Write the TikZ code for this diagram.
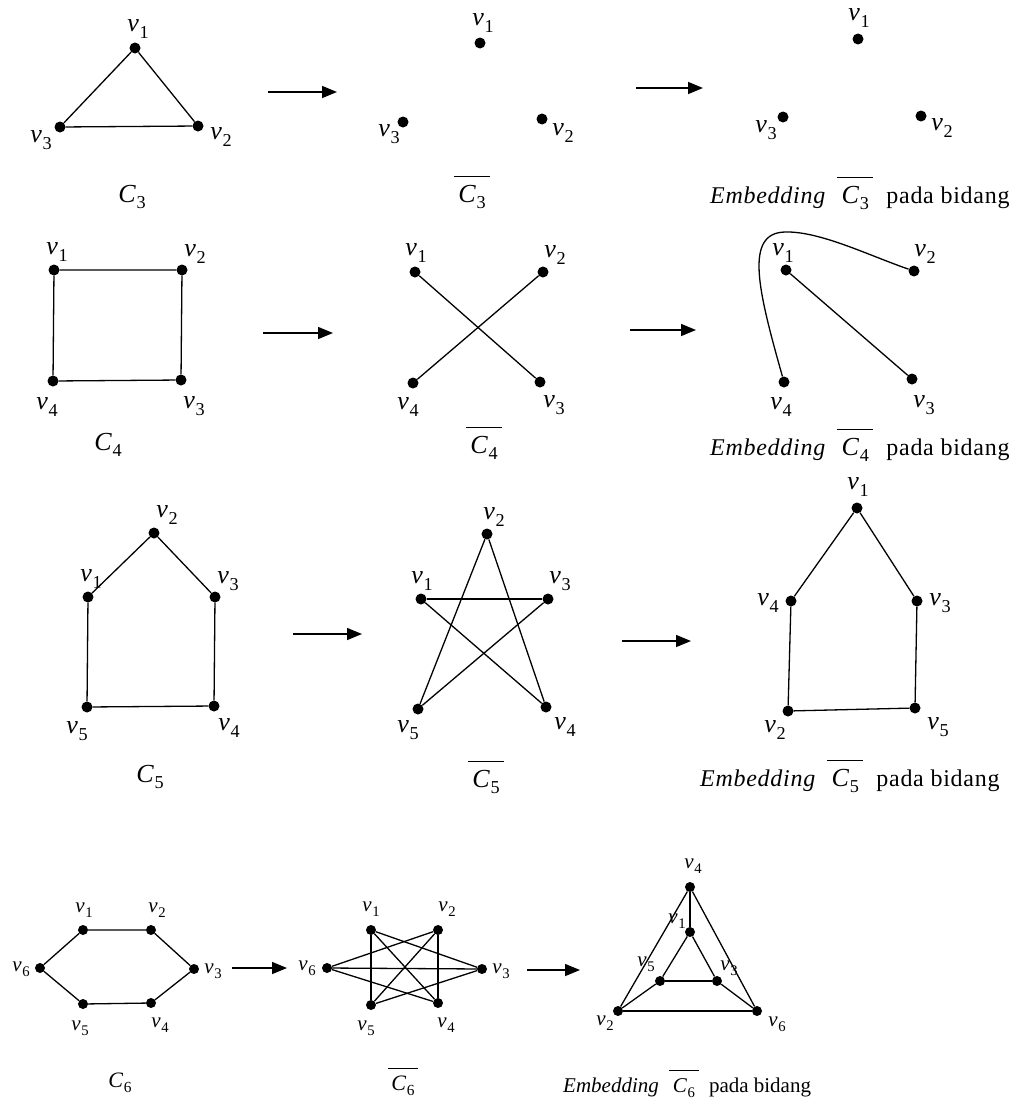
\documentclass[tikz,border=0pt]{standalone}
\usepackage{fontspec}
\setmainfont{Liberation Serif}
\usetikzlibrary{arrows.meta}
% vertex label v_i and cycle names, with a larger lowered index
\newcommand{\sbx}[1]{\raisebox{-0.24em}{\scalebox{0.7}{#1}}}
\newcommand{\vl}[1]{\textit{v}\kern0.6pt\sbx{#1}}
\newcommand{\cl}[1]{\textit{C}\kern0.6pt\sbx{#1}}
\newcommand{\cbar}[1]{$\overline{\rule{0pt}{0.95em}\mbox{\,\textit{C}\kern0.6pt\sbx{#1}\,}}$}
\newcommand{\embcap}[1]{{\itshape\addfontfeature{LetterSpace=3}Embedding}\hspace{0.5em}{\fontsize{26}{26}\selectfont\cbar{#1}}\hspace{0.55em}{\addfontfeature{LetterSpace=3}pada bidang}}
\newcommand{\embcaps}[1]{\textit{Embedding}\hspace{0.5em}\cbar{#1}\hspace{0.5em}pada bidang}

\begin{document}
\begin{tikzpicture}[x=1pt,y=-1pt,
  dot/.style={circle,fill=black,inner sep=0pt,minimum size=11pt},
  sdot/.style={circle,fill=black,inner sep=0pt,minimum size=10pt},
  lab/.style={inner sep=0pt,font=\fontsize{26}{26}\selectfont},
  labs/.style={inner sep=0pt,font=\fontsize{21}{21}\selectfont},
  clab/.style={inner sep=0pt,anchor=base,font=\fontsize{26}{26}\selectfont},
  clabs/.style={inner sep=0pt,anchor=base,font=\fontsize{22}{22}\selectfont},
  capt/.style={inner sep=0pt,anchor=base west,font=\fontsize{24}{24}\selectfont},
  capts/.style={inner sep=0pt,anchor=base west,font=\fontsize{21}{21}\selectfont},
  ln/.style={line width=1.3pt},
  arr/.style={line width=1.5pt,-{Triangle[length=15pt,width=12pt]}}]

\fill[white] (0,0) rectangle (1033,1111);
\useasboundingbox (0,0) rectangle (1033,1111);

% ---------- C3 ----------
\node[dot] (a1) at (135,48) {};
\node[dot] (a2) at (198,126) {};
\node[dot] (a3) at (60,127) {};
\node[lab] (a1l) at (138,29) {\vl1};
\node[lab] (a2l) at (221,137) {\vl2};
\node[lab] (a3l) at (41,140) {\vl3};
\node[clab] (acap) at (132,202) {\cl3};
\draw[ln] (a1) -- (a2) -- (a3) -- (a1);
\coordinate (r1s) at (268,92); \coordinate (r1e) at (337,92);
\draw[arr] (r1s) -- (r1e);

\node[dot] (b1) at (480,43) {};
\node[dot] (b2) at (542,119) {};
\node[dot] (b3) at (403,122) {};
\node[lab] (b1l) at (483,23) {\vl1};
\node[lab] (b2l) at (563,133) {\vl2};
\node[lab] (b3l) at (389,134) {\vl3};
\node[clab] (bcap) at (472,202) {\cbar3};
\coordinate (r2s) at (636,88); \coordinate (r2e) at (703,88);
\draw[arr] (r2s) -- (r2e);

\node[dot] (c1) at (858,39) {};
\node[dot] (c2) at (921,116) {};
\node[dot] (c3) at (783,117) {};
\node[lab] (c1l) at (859,18) {\vl1};
\node[lab] (c2l) at (942,128) {\vl2};
\node[lab] (c3l) at (766,130) {\vl3};
\node[capt] (ccap) at (710,203) {\embcap3};

% ---------- C4 ----------
\node[dot] (d1) at (54,270) {};
\node[dot] (d2) at (182,270) {};
\node[dot] (d3) at (181,380) {};
\node[dot] (d4) at (53,381) {};
\node[lab] (d1l) at (57,252) {\vl1};
\node[lab] (d2l) at (195,254) {\vl2};
\node[lab] (d3l) at (194,406) {\vl3};
\node[lab] (d4l) at (47,407) {\vl4};
\node[clab] (dcap) at (108,450) {\cl4};
\draw[ln] (d1) -- (d2) -- (d3) -- (d4) -- (d1);
\coordinate (r3s) at (263,333); \coordinate (r3e) at (333,333);
\draw[arr] (r3s) -- (r3e);

\node[dot] (e1) at (415,272) {};
\node[dot] (e2) at (543,272) {};
\node[dot] (e3) at (540,382) {};
\node[dot] (e4) at (413,383) {};
\node[lab] (e1l) at (416,253) {\vl1};
\node[lab] (e2l) at (555,255) {\vl2};
\node[lab] (e3l) at (554,405) {\vl3};
\node[lab] (e4l) at (408,407) {\vl4};
\node[clab] (ecap) at (484,453) {\cbar4};
\draw[ln] (e1) -- (e3);
\draw[ln] (e2) -- (e4);
\coordinate (r4s) at (630,330); \coordinate (r4e) at (696,330);
\draw[arr] (r4s) -- (r4e);

\node[dot] (f1) at (786,270) {};
\node[dot] (f2) at (914,271) {};
\node[dot] (f3) at (912,379) {};
\node[dot] (f4) at (784,382) {};
\node[lab] (f1l) at (783,253) {\vl1};
\node[lab] (f2l) at (925,254) {\vl2};
\node[lab] (f3l) at (924,405) {\vl3};
\node[lab] (f4l) at (781,407) {\vl4};
\node[capt] (fcap) at (710,455) {\embcap4};
\draw[ln] (f1) -- (f3);
\draw[ln] (f4) .. controls (758,290) and (744,233) .. (785,232)
                 .. controls (820,231) and (870,256) .. (f2);

% ---------- C5 ----------
\node[dot] (g1) at (88,597) {};
\node[dot] (g2) at (154,533) {};
\node[dot] (g3) at (215,597) {};
\node[dot] (g4) at (214,706) {};
\node[dot] (g5) at (87,707) {};
\node[lab] (g1l) at (91,579) {\vl1};
\node[lab] (g2l) at (167,515) {\vl2};
\node[lab] (g3l) at (228,581) {\vl3};
\node[lab] (g4l) at (229,728) {\vl4};
\node[lab] (g5l) at (77,731) {\vl5};
\node[clab] (gcap) at (150,782) {\cl5};
\draw[ln] (g1) -- (g2) -- (g3) -- (g4) -- (g5) -- (g1);
\coordinate (r5s) at (293,634); \coordinate (r5e) at (362,634);
\draw[arr] (r5s) -- (r5e);

\node[dot] (h1) at (421,599) {};
\node[dot] (h2) at (487,534) {};
\node[dot] (h3) at (548,599) {};
\node[dot] (h4) at (546,707) {};
\node[dot] (h5) at (418,709) {};
\node[lab] (h1l) at (422,581) {\vl1};
\node[lab] (h2l) at (494,517) {\vl2};
\node[lab] (h3l) at (560,581) {\vl3};
\node[lab] (h4l) at (565,727) {\vl4};
\node[lab] (h5l) at (408,730) {\vl5};
\node[clab] (hcap) at (486,787) {\cbar5};
\draw[ln] (h1) -- (h3);
\draw[ln] (h1) -- (h4);
\draw[ln] (h2) -- (h4);
\draw[ln] (h2) -- (h5);
\draw[ln] (h3) -- (h5);
\coordinate (r6s) at (622,641); \coordinate (r6e) at (691,641);
\draw[arr] (r6s) -- (r6e);

\node[dot] (i1) at (857,508) {};
\node[dot] (i2) at (788,711) {};
\node[dot] (i3) at (917,601) {};
\node[dot] (i4) at (791,601) {};
\node[dot] (i5) at (915,708) {};
\node[lab] (i1l) at (858,487) {\vl1};
\node[lab] (i2l) at (775,730) {\vl2};
\node[lab] (i3l) at (940,603) {\vl3};
\node[lab] (i4l) at (768,603) {\vl4};
\node[lab] (i5l) at (938,727) {\vl5};
\node[capt] (icap) at (700,786) {\embcap5};
\draw[ln] (i1) -- (i4) -- (i2) -- (i5) -- (i3) -- (i1);

% ---------- C6 ----------
\node[sdot] (j1) at (83,930) {};
\node[sdot] (j2) at (151,930) {};
\node[sdot] (j3) at (194,969) {};
\node[sdot] (j4) at (151,1003) {};
\node[sdot] (j5) at (83,1004) {};
\node[sdot] (j6) at (40,968) {};
\node[labs] (j1l) at (84,910) {\vl1};
\node[labs] (j2l) at (157,910) {\vl2};
\node[labs] (j3l) at (213,971) {\vl3};
\node[labs] (j4l) at (160,1025) {\vl4};
\node[labs] (j5l) at (80,1028) {\vl5};
\node[labs] (j6l) at (21,969) {\vl6};
\node[clabs] (jcap) at (120,1087) {\cl6};
\draw[ln] (j1) -- (j2) -- (j3) -- (j4) -- (j5) -- (j6) -- (j1);
\coordinate (r7s) at (232,968); \coordinate (r7e) at (287,968);
\draw[arr] (r7s) -- (r7e);

\node[sdot] (k1) at (371,930) {};
\node[sdot] (k2) at (438,930) {};
\node[sdot] (k3) at (482,969) {};
\node[sdot] (k4) at (438,1003) {};
\node[sdot] (k5) at (371,1005) {};
\node[sdot] (k6) at (327,968) {};
\node[labs] (k1l) at (371,909) {\vl1};
\node[labs] (k2l) at (447,909) {\vl2};
\node[labs] (k3l) at (501,971) {\vl3};
\node[labs] (k4l) at (446,1025) {\vl4};
\node[labs] (k5l) at (366,1028) {\vl5};
\node[labs] (k6l) at (307,968) {\vl6};
\node[clabs] (kcap) at (403,1090) {\cbar6};
\draw[ln] (k1) -- (k3);
\draw[ln] (k1) -- (k4);
\draw[ln] (k1) -- (k5);
\draw[ln] (k2) -- (k4);
\draw[ln] (k2) -- (k5);
\draw[ln] (k2) -- (k6);
\draw[ln] (k3) -- (k5);
\draw[ln] (k3) -- (k6);
\draw[ln] (k4) -- (k6);
\coordinate (r8s) at (527,970); \coordinate (r8e) at (580,970);
\draw[arr] (r8s) -- (r8e);

\node[sdot] (l1) at (690,932) {};
\node[sdot] (l2) at (618,1011) {};
\node[sdot] (l3) at (717,981) {};
\node[sdot] (l4) at (690,887) {};
\node[sdot] (l5) at (660,981) {};
\node[sdot] (l6) at (757,1011) {};
\node[labs] (l1l) at (677,921) {\vl1};
\node[labs] (l2l) at (605,1023) {\vl2};
\node[labs] (l3l) at (729,968) {\vl3};
\node[labs] (l4l) at (693,866) {\vl4};
\node[labs] (l5l) at (646,964) {\vl5};
\node[labs] (l6l) at (777,1024) {\vl6};
\node[capts] (lcap) at (563,1092) {\embcaps6};
\draw[ln] (l4) -- (l1);
\draw[ln] (l4) -- (l2);
\draw[ln] (l4) -- (l6);
\draw[ln] (l1) -- (l5);
\draw[ln] (l1) -- (l3);
\draw[ln] (l5) -- (l3);
\draw[ln] (l5) -- (l2);
\draw[ln] (l3) -- (l6);
\draw[ln] (l2) -- (l6);
\end{tikzpicture}
\end{document}
